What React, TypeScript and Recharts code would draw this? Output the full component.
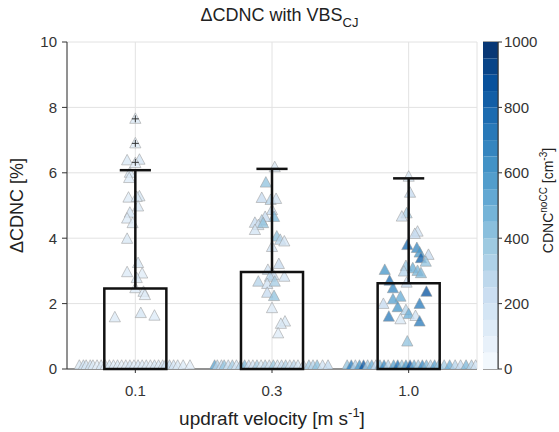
import {
  ComposedChart,
  Scatter,
  XAxis,
  YAxis,
  CartesianGrid,
  ReferenceArea,
  ReferenceLine,
  BarChart,
  Bar,
} from 'recharts';

// updraft velocity categories and the box statistics per category
const CATEGORIES = ['0.1', '0.3', '1.0'];
const BOX_Q1 = [0, 0, 0];
const BOX_Q3 = [2.46, 2.97, 2.62];
const WHISKER_HI = [6.08, 6.12, 5.83];
const OUTLIERS = [
  [0, 7.65],
  [0, 6.9],
  [0, 6.32],
];

const Y_TICKS = [0, 2, 4, 6, 8, 10];
const CB_TICKS = [0, 200, 400, 600, 800, 1000];
const CB_LEVELS = [0, 50, 100, 150, 200, 250, 300, 350, 400, 450, 500, 550, 600, 650, 700, 750, 800, 850, 900, 950, 1000];

// [jitter, dCDNC %, CDNC noCC]
const POINTS_01 = [
  [0, 7.65, 140], [0, 6.9, 120], [-0.06, 6.38, 150], [0.03, 6.4, 180], [0, 6.3, 110],
  [-0.04, 6.0, 160], [-0.045, 5.84, 130], [0.03, 5.28, 170], [-0.05, 5.24, 120], [0.01, 5.26, 150],
  [0.02, 4.97, 140], [-0.04, 4.78, 180], [-0.06, 4.6, 130], [-0.02, 4.46, 120], [-0.06, 3.98, 150],
  [0.02, 3.24, 170], [-0.06, 2.96, 140], [0.05, 2.92, 120], [0.01, 2.78, 160], [0, 2.47, 130],
  [0.06, 2.36, 150], [0.07, 2.26, 120], [-0.15, 1.58, 140], [0.04, 1.71, 170], [0.14, 1.63, 130],
  [-0.41, 0.1, 150], [-0.38, 0.1, 220], [-0.36, 0.1, 180], [-0.33, 0.1, 200], [-0.31, 0.1, 140],
  [-0.28, 0.1, 110], [-0.25, 0.1, 160], [-0.22, 0.1, 130], [-0.19, 0.1, 170], [-0.16, 0.1, 120],
  [-0.13, 0.1, 150], [-0.1, 0.1, 100], [-0.07, 0.1, 140], [-0.04, 0.1, 180], [-0.01, 0.1, 120],
  [0.02, 0.1, 160], [0.05, 0.1, 130], [0.08, 0.1, 150], [0.11, 0.1, 110], [0.14, 0.1, 170],
  [0.17, 0.1, 140], [0.2, 0.1, 190], [0.22, 0.1, 220], [0.25, 0.1, 260], [0.28, 0.1, 180],
  [0.31, 0.1, 150], [0.35, 0.1, 130], [0.4, 0.1, 110],
];

const POINTS_03 = [
  [0.02, 6.17, 150], [-0.045, 5.7, 400], [-0.075, 5.23, 250], [-0.01, 5.17, 300], [0.03, 5.2, 200],
  [0, 4.86, 250], [0.015, 4.65, 450], [-0.05, 4.65, 250], [-0.075, 4.54, 300], [-0.125, 4.47, 250],
  [-0.1, 4.4, 200], [-0.065, 4.46, 400], [-0.125, 4.25, 180], [0.035, 4.05, 400], [0.06, 3.95, 300],
  [0.09, 3.9, 180], [0, 3.73, 200], [0.05, 3.21, 250], [-0.03, 3.03, 200], [0.01, 2.87, 250],
  [0.09, 2.82, 180], [-0.015, 2.82, 300], [-0.1, 2.67, 300], [-0.035, 2.6, 200], [0.02, 2.67, 350],
  [-0.035, 2.33, 250], [0.015, 2.23, 400], [0, 1.86, 130], [0.095, 1.45, 150], [0.065, 1.38, 150],
  [0.045, 1.09, 120],
  [-0.42, 0.1, 550], [-0.4, 0.1, 300], [-0.37, 0.1, 250], [-0.35, 0.1, 400], [-0.32, 0.1, 200],
  [-0.29, 0.1, 350], [-0.26, 0.1, 180], [-0.23, 0.1, 300], [-0.2, 0.1, 450], [-0.17, 0.1, 250],
  [-0.14, 0.1, 200], [-0.11, 0.1, 350], [-0.08, 0.1, 150], [-0.05, 0.1, 300], [-0.02, 0.1, 220],
  [0.01, 0.1, 380], [0.04, 0.1, 180], [0.07, 0.1, 260], [0.1, 0.1, 320], [0.13, 0.1, 200],
  [0.16, 0.1, 280], [0.19, 0.1, 170], [0.23, 0.1, 230], [0.27, 0.1, 350], [0.3, 0.1, 300],
  [0.33, 0.1, 420], [0.37, 0.1, 200], [0.41, 0.1, 260],
];

const POINTS_10 = [
  [0, 5.88, 150], [0.01, 5.39, 250], [-0.015, 4.76, 350], [-0.05, 4.66, 200], [0.065, 4.2, 200],
  [0.045, 4.13, 250], [-0.01, 3.79, 750], [0.06, 3.7, 650], [0.08, 3.56, 600], [0.09, 3.39, 800],
  [0.145, 3.49, 250], [0.125, 3.28, 400], [-0.02, 3.15, 400], [0.03, 3.08, 500], [0.065, 3.0, 450],
  [-0.035, 2.98, 300], [-0.175, 3.03, 600], [0.09, 2.93, 450], [-0.015, 2.64, 250], [-0.14, 2.7, 750],
  [-0.115, 2.47, 650], [0.13, 2.36, 850], [-0.06, 2.21, 500], [-0.115, 2.13, 550], [-0.185, 1.99, 250],
  [0.08, 1.99, 700], [-0.08, 1.89, 600], [-0.02, 1.8, 300], [0, 1.68, 500], [0.05, 1.62, 200],
  [-0.145, 1.6, 700], [-0.06, 1.52, 150], [0.08, 1.45, 700], [-0.01, 0.84, 400],
  [-0.45, 0.1, 400], [-0.42, 0.1, 700], [-0.39, 0.1, 300], [-0.36, 0.1, 600], [-0.33, 0.1, 850],
  [-0.3, 0.1, 350], [-0.27, 0.1, 500], [-0.24, 0.1, 250], [-0.21, 0.1, 450], [-0.18, 0.1, 650],
  [-0.15, 0.1, 300], [-0.11, 0.1, 550], [-0.08, 0.1, 750], [-0.05, 0.1, 400], [-0.02, 0.1, 600],
  [0.01, 0.1, 850], [0.04, 0.1, 500], [0.07, 0.1, 350], [0.1, 0.1, 650], [0.13, 0.1, 450],
  [0.16, 0.1, 300], [0.19, 0.1, 550], [0.22, 0.1, 400], [0.26, 0.1, 350], [0.3, 0.1, 500],
  [0.34, 0.1, 300], [0.38, 0.1, 250], [0.42, 0.1, 450], [0.46, 0.1, 300], [0.49, 0.1, 200],
];

const BLUES = ['#f7fbff', '#deebf7', '#c6dbef', '#9ecae1', '#6baed6', '#4292c6', '#2171b5', '#08519c', '#08306b'];

const hexToRgb = (h: string) => [1, 3, 5].map((i) => parseInt(h.slice(i, i + 2), 16));

const blues = (t: number) => {
  const v = Math.min(1, Math.max(0, t)) * (BLUES.length - 1);
  const i = Math.min(BLUES.length - 2, Math.floor(v));
  const f = v - i;
  const a = hexToRgb(BLUES[i]);
  const b = hexToRgb(BLUES[i + 1]);
  const c = a.map((x, k) => Math.round(x + (b[k] - x) * f));
  return `rgb(${c[0]},${c[1]},${c[2]})`;
};

const FONT = '"Liberation Sans", Arial, sans-serif';
const BOX_HALF = 0.227;
const CAP_HALF = 0.114;

const scatterData = [POINTS_01, POINTS_03, POINTS_10].flatMap((pts, i) =>
  pts.map(([dx, y, c]) => ({ x: i + dx, y, c }))
);
const outlierData = OUTLIERS.map(([x, y]) => ({ x, y }));

const cbRow: Record<string, number | string> = { name: 'cb' };
CB_LEVELS.slice(1).forEach((lv, i) => {
  cbRow[`s${i}`] = lv - CB_LEVELS[i];
});
const cbData = [cbRow];

const Triangle = (props: any) => {
  const { cx, cy, payload } = props;
  if (cx == null || cy == null) return null;
  return (
    <polygon
      points={`${cx},${cy - 6} ${cx - 5.6},${cy + 4.5} ${cx + 5.6},${cy + 4.5}`}
      fill={blues(payload.c / 1000)}
      fillOpacity={0.78}
      stroke="#999"
      strokeOpacity={0.6}
      strokeWidth={0.9}
    />
  );
};

const Plus = (props: any) => {
  const { cx, cy } = props;
  if (cx == null || cy == null) return null;
  return (
    <path d={`M${cx - 3.5},${cy}H${cx + 3.5}M${cx},${cy - 3.5}V${cy + 3.5}`} stroke="#333" strokeWidth={1} />
  );
};

const YLabel = (props: any) => {
  const { viewBox } = props;
  const x = 23;
  const y = viewBox.y + viewBox.height / 2;
  return (
    <text x={x} y={y} transform={`rotate(-90 ${x} ${y})`} textAnchor="middle" fontSize={18} fill="#222" fontFamily={FONT}>
      ΔCDNC [%]
    </text>
  );
};

const XLabel = (props: any) => {
  const { viewBox } = props;
  const x = viewBox.x + viewBox.width / 2;
  const y = viewBox.y + 56;
  return (
    <text x={x} y={y} textAnchor="middle" fontSize={19} fill="#222" fontFamily={FONT}>
      updraft velocity [m s
      <tspan fontSize={13} dy={-8}>-1</tspan>
      <tspan dy={8}>]</tspan>
    </text>
  );
};

const CbLabel = (props: any) => {
  const { viewBox } = props;
  const x = 70;
  const y = viewBox.y + viewBox.height / 2 - 5;
  return (
    <text x={x} y={y} transform={`rotate(-90 ${x} ${y})`} textAnchor="middle" fontSize={14} fill="#222" fontFamily={FONT}>
      CDNC
      <tspan fontSize={10} dy={-6}>noCC</tspan>
      <tspan dy={6}> [cm</tspan>
      <tspan fontSize={10} dy={-6}>-3</tspan>
      <tspan dy={6}>]</tspan>
    </text>
  );
};

const App = () => {
  const tick = { fontSize: 15, fill: '#333', fontFamily: FONT };
  return (
    <div style={{ position: 'absolute', left: 0, top: 0, width: 559, height: 432, background: '#fff' }}>
      <div
        style={{
          position: 'absolute',
          left: 0,
          top: 5,
          width: 559,
          boxSizing: 'border-box',
          textAlign: 'center',
          fontFamily: FONT,
          fontSize: 18,
          color: '#222',
        }}
      >
        ΔCDNC with VBS<sub style={{ fontSize: 13, verticalAlign: -6 }}>CJ</sub>
      </div>
      <div style={{ position: 'absolute', left: 0, top: 0 }}>
        <ComposedChart width={559} height={432} margin={{ top: 42, right: 82, bottom: 0, left: 0 }}>
          <CartesianGrid stroke="#e2e2e2" />
          <XAxis
            type="number"
            dataKey="x"
            domain={[-0.5, 2.5]}
            ticks={[0, 1, 2]}
            tickFormatter={(v: number) => CATEGORIES[v]}
            allowDataOverflow
            height={63}
            tick={tick}
            tickSize={4}
            tickMargin={12}
            stroke="#333"
            label={XLabel}
          />
          <YAxis
            type="number"
            dataKey="y"
            domain={[0, 10]}
            ticks={Y_TICKS}
            allowDataOverflow
            width={67}
            tick={tick}
            tickSize={5}
            tickMargin={5}
            stroke="#333"
            label={YLabel}
          />
          <Scatter data={scatterData} shape={Triangle} isAnimationActive={false} />
          <Scatter data={outlierData} shape={Plus} isAnimationActive={false} />
          {CATEGORIES.map((_, i) => (
            <ReferenceArea
              key={`box${i}`}
              x1={i - BOX_HALF}
              x2={i + BOX_HALF}
              y1={BOX_Q1[i]}
              y2={BOX_Q3[i]}
              fill="none"
              fillOpacity={0}
              stroke="#111"
              strokeWidth={2.5}
              ifOverflow="visible"
              zIndex={700}
            />
          ))}
          {CATEGORIES.map((_, i) => (
            <ReferenceLine
              key={`wh${i}`}
              segment={[{ x: i, y: BOX_Q3[i] }, { x: i, y: WHISKER_HI[i] }]}
              stroke="#111"
              strokeWidth={2.5}
              zIndex={700}
            />
          ))}
          {CATEGORIES.map((_, i) => (
            <ReferenceLine
              key={`cap${i}`}
              segment={[{ x: i - CAP_HALF, y: WHISKER_HI[i] }, { x: i + CAP_HALF, y: WHISKER_HI[i] }]}
              stroke="#111"
              strokeWidth={2.5}
              zIndex={700}
            />
          ))}
        </ComposedChart>
      </div>
      <div style={{ position: 'absolute', left: 483, top: 0 }}>
        <BarChart
          width={76}
          height={432}
          data={cbData}
          margin={{ top: 42, right: 0, bottom: 63, left: 0 }}
          barCategoryGap={0}
          barGap={0}
        >
          <XAxis dataKey="name" hide />
          <YAxis
            orientation="right"
            type="number"
            domain={[0, 1000]}
            ticks={CB_TICKS}
            width={61}
            tick={tick}
            tickSize={4}
            tickMargin={2}
            stroke="#333"
            label={CbLabel}
          />
          {CB_LEVELS.slice(1).map((lv, i) => (
            <Bar
              key={`s${i}`}
              dataKey={`s${i}`}
              stackId="cb"
              fill={blues((CB_LEVELS[i] + lv) / 2000)}
              isAnimationActive={false}
            />
          ))}
          <ReferenceArea y1={0} y2={1000} fill="none" fillOpacity={0} stroke="#444" strokeWidth={1} ifOverflow="visible" />
        </BarChart>
      </div>
    </div>
  );
};

export default App;
